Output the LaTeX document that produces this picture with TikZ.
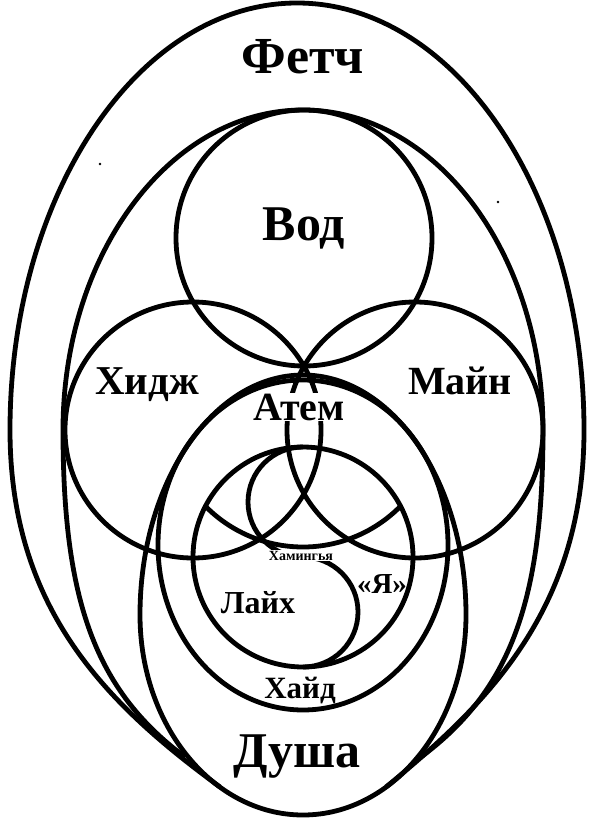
\documentclass[tikz,border=0pt]{standalone}
\usepackage{fontspec}
\setmainfont{Liberation Serif}
\begin{document}
\begin{tikzpicture}[x=1pt, y=-1pt,
    krug/.style={line width=4.8pt},
    nadpis/.style={anchor=base, inner sep=1pt, font=\fontsize{#1}{#1}\selectfont\bfseries},
    tochka/.style={fill=black}
]
\useasboundingbox (0,0) rectangle (595,819);

\draw[krug] (220,787) .. controls (108,705) and (10,610) .. (10,430)
    arc[start angle=180, end angle=360, x radius=287, y radius=427]
    .. controls (584,610) and (486,705) .. (386,787);
\draw[krug] (185,757) .. controls (95,690) and (63,600) .. (63,430)
    arc[start angle=180, end angle=360, x radius=240, y radius=320]
    .. controls (543,600) and (511,690) .. (421,757);

\draw[krug] (304,238) circle[radius=128];
\draw[krug] (193,430) circle[radius=128];
\draw[krug] (415,430) circle[radius=128];

\draw[krug] (303,545) ellipse[x radius=145, y radius=165];
\draw[krug] (140,615) arc[start angle=180, end angle=360, x radius=163, y radius=240]
    arc[start angle=0, end angle=180, x radius=163, y radius=200] -- cycle;

\draw[krug] (303,557) circle[radius=110];
\draw[krug] (303,447) arc[start angle=270, end angle=90, radius=55]
    arc[start angle=270, end angle=450, radius=55];
\draw[krug] (400.5,506.2) arc[start angle=44.6, end angle=135.4, radius=137];

\fill[tochka] (100,164) circle[radius=1.3];
\fill[tochka] (498,202) circle[radius=1.3];

\node[nadpis=52] (fetch) at (303,73) {Фетч};
\node[nadpis=50] (vod) at (304,240) {Вод};
\node[nadpis=41] (hidzh) at (147,394) {Хидж};
\node[nadpis=40] (majn) at (460,394) {Майн};
\node[nadpis=40, fill=white] (atem) at (299,420) {Атем};
\node[nadpis=14, fill=white, inner sep=0.5pt] (haming) at (301,560) {Хамингья};
\node[nadpis=32] (lajh) at (258,613) {Лайх};
\node[nadpis=29] (ja) at (382,593) {«Я»};
\node[nadpis=31] (hajd) at (300,698) {Хайд};
\node[nadpis=50] (dusha) at (297,767) {Душа};
\end{tikzpicture}
\end{document}
